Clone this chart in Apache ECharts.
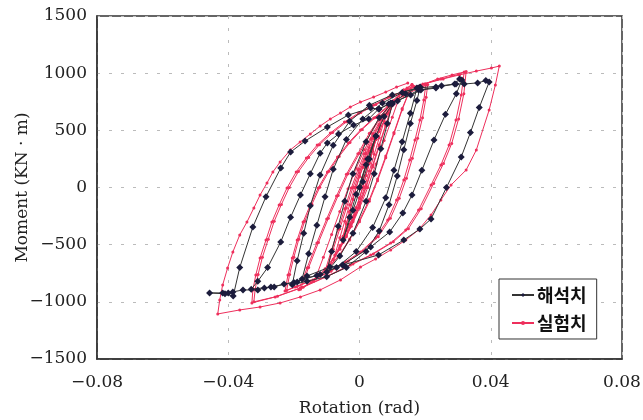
<!DOCTYPE html>
<html><head><meta charset="utf-8">
<script src="https://cdn.jsdelivr.net/npm/echarts@6/dist/echarts.min.js"></script>
<style>html,body{margin:0;padding:0;background:#fff}#c{width:643px;height:420px}</style>
</head><body><div id="c"></div>
<script>
// ---- tick values ----
const xTicks = [-0.08, -0.04, 0, 0.04, 0.08];
const yTicks = [-1500, -1000, -500, 0, 500, 1000, 1500];
const seriesNames = ['해석치', '실험치'];

// ---- 실험치 (experimental) path pieces: [rotation, moment] ----
const redStart = [[0,0],[0.001,90],[0.002,180],[0.003,260],[0.004,340],[0.005,420]];
const redL1a = [[0.004,315],[0.003,210],[0.002,105],[0.001,0],[0,-95],[-0.001,-180],[-0.002,-260],[-0.003,-320],[-0.004,-375],[-0.005,-430],[-0.004,-320],[-0.003,-215],[-0.002,-105],[-0.001,0],[0,95],[0.001,175],[0.002,250],[0.003,315],[0.004,370],[0.005,420]];
const redL1b = [[0.004,320],[0.003,220],[0.002,110],[0.001,5],[0,-90],[-0.001,-175],[-0.002,-255],[-0.003,-325],[-0.004,-380],[-0.005,-425],[-0.004,-315],[-0.003,-210],[-0.002,-100],[-0.001,5],[0,100],[0.001,180],[0.002,255],[0.003,320],[0.004,375],[0.005,425],[0.006,490],[0.0075,580]];
const redL2 = [[0.006,435],[0.0045,290],[0.003,145],[0.0015,0],[0,-130],[-0.0015,-245],[-0.003,-350],[-0.0045,-440],[-0.006,-510],[-0.0075,-590],[-0.006,-440],[-0.0045,-295],[-0.003,-150],[-0.0015,0],[0,130],[0.0015,245],[0.003,350],[0.0045,435],[0.006,510],[0.0075,580],[0.0088,650],[0.01,720]];
const redL3a = [[0.008,540],[0.006,360],[0.004,180],[0.002,0],[0,-160],[-0.002,-300],[-0.004,-430],[-0.006,-540],[-0.008,-630],[-0.01,-720],[-0.008,-540],[-0.006,-360],[-0.004,-180],[-0.002,0],[0,160],[0.002,300],[0.004,430],[0.006,540],[0.008,635],[0.01,720]];
const redL3b = [[0.008,550],[0.006,375],[0.004,195],[0.002,15],[0,-150],[-0.002,-290],[-0.004,-420],[-0.006,-530],[-0.008,-625],[-0.0105,-730],[-0.0085,-545],[-0.0065,-365],[-0.0045,-185],[-0.0025,-5],[-0.0005,155],[0.0015,295],[0.0035,425],[0.006,550],[0.0085,650],[0.0105,730],[0.0115,780],[0.0125,820]];
const redL4 = [[0.01,615],[0.0075,410],[0.005,205],[0.0025,0],[0,-180],[-0.0025,-340],[-0.005,-480],[-0.0075,-600],[-0.0105,-710],[-0.0135,-800],[-0.011,-610],[-0.0085,-410],[-0.006,-210],[-0.0035,-10],[-0.001,170],[0.0015,330],[0.004,470],[0.0065,590],[0.0095,710],[0.0125,820],[0.0145,870],[0.016,900]];
const redL5a = [[0.013,680],[0.0105,470],[0.008,260],[0.0055,60],[0.003,-120],[0,-300],[-0.003,-460],[-0.006,-590],[-0.01,-720],[-0.014,-820],[-0.018,-890],[-0.0155,-700],[-0.0125,-480],[-0.0095,-270],[-0.0065,-70],[-0.0035,120],[0,300],[0.0035,480],[0.007,630],[0.0105,760],[0.0135,850],[0.016,900]];
const redL5b = [[0.013,690],[0.0105,480],[0.008,275],[0.0055,75],[0.003,-105],[0,-285],[-0.003,-450],[-0.006,-585],[-0.01,-715],[-0.014,-815],[-0.0185,-895],[-0.016,-705],[-0.013,-485],[-0.01,-275],[-0.007,-75],[-0.004,115],[-0.0005,295],[0.003,475],[0.0065,625],[0.01,755],[0.0135,855],[0.0165,885],[0.0185,893],[0.0202,896]];
const red02a = [[0.0196,765],[0.0184,590],[0.0169,415],[0.0153,240],[0.0135,66],[0.0113,-109],[0.0086,-284],[0.0049,-441],[0.0003,-564],[-0.0043,-651],[-0.0095,-739],[-0.015,-817],[-0.0196,-870],[-0.0227,-905],[-0.0218,-765],[-0.0205,-616],[-0.019,-459],[-0.0172,-302],[-0.015,-153],[-0.0126,-4],[-0.0098,136],[-0.0067,267],[-0.0034,389],[0.0003,503],[0.0043,607],[0.0086,712],[0.0132,800],[0.0175,860],[0.0208,900]];
const red02b = [[0.0203,790],[0.0192,610],[0.0177,430],[0.0161,255],[0.0143,80],[0.0121,-95],[0.0094,-270],[0.0057,-430],[0.0011,-555],[-0.0035,-645],[-0.0087,-732],[-0.0142,-810],[-0.019,-865],[-0.0222,-900],[-0.0213,-760],[-0.02,-610],[-0.0185,-452],[-0.0167,-295],[-0.0145,-147],[-0.0121,2],[-0.0093,142],[-0.0062,272],[-0.0029,394],[0.0008,508],[0.0048,612],[0.0091,716],[0.0137,812],[0.0185,890],[0.0238,950],[0.0282,985],[0.0319,1010]];
const red03a = [[0.031,808],[0.0294,590],[0.0273,371],[0.0248,197],[0.0218,22],[0.018,-197],[0.0141,-371],[0.0095,-485],[0.0034,-590],[-0.0028,-677],[-0.0104,-782],[-0.018,-878],[-0.0257,-957],[-0.0328,-1010],[-0.0325,-896],[-0.0316,-765],[-0.0303,-616],[-0.0285,-459],[-0.0267,-302],[-0.0245,-153],[-0.0221,-4],[-0.0193,136],[-0.0162,258],[-0.0129,371],[-0.0089,476],[-0.0046,572],[-0.0003,651],[0.0043,721],[0.0089,791],[0.0141,852],[0.0193,905],[0.0248,948],[0.0303,990],[0.0325,1015]];
const red03b = [[0.0318,820],[0.0302,600],[0.0281,385],[0.0256,210],[0.0226,35],[0.0188,-185],[0.0149,-360],[0.0103,-475],[0.0042,-582],[-0.002,-670],[-0.0096,-775],[-0.0172,-872],[-0.025,-952],[-0.0322,-1000],[-0.0318,-890],[-0.0309,-760],[-0.0296,-610],[-0.0278,-452],[-0.026,-296],[-0.0238,-148],[-0.0214,0],[-0.0186,140],[-0.0155,262],[-0.0122,375],[-0.0082,480],[-0.0039,576],[0.0004,655],[0.005,725],[0.0096,795],[0.0148,856],[0.02,908],[0.0255,950],[0.0305,985],[0.0356,1018],[0.0402,1045],[0.0426,1062]];
const red04 = [[0.0414,896],[0.0395,677],[0.0356,328],[0.0325,153],[0.0279,22],[0.0248,-109],[0.0218,-240],[0.018,-371],[0.0141,-459],[0.0095,-546],[0.0049,-625],[0.0003,-695],[-0.0058,-808],[-0.012,-896],[-0.018,-957],[-0.0242,-1010],[-0.0303,-1045],[-0.0365,-1071],[-0.0432,-1106],[-0.0426,-983],[-0.0417,-852],[-0.0402,-704],[-0.0386,-564],[-0.0365,-415],[-0.0343,-302],[-0.0322,-179],[-0.0303,-66],[-0.0282,39],[-0.0264,136],[-0.0242,223],[-0.0211,328],[-0.0181,398],[-0.015,468],[-0.012,538],[-0.0089,599],[-0.0058,651],[-0.0028,704],[0.0003,747],[0.0043,791],[0.008,835],[0.0113,878],[0.0147,913]];

// ---- 해석치 (analysis) path pieces ----
const blkStart = [[0,0],[0.0025,250],[0.005,450]];
const blkC1 = [[0.003,250],[0.001,50],[-0.002,-200],[-0.005,-460],[-0.003,-260],[-0.001,-60],[0.002,200],[0.005,450]];
const blkC2 = [[0.0075,620],[0.01,730],[0.0085,560],[0.0065,340],[0.0045,120],[0.002,-120],[-0.002,-400],[-0.006,-600],[-0.01,-740],[-0.0085,-560],[-0.0065,-340],[-0.0045,-120],[-0.002,120],[0.002,400],[0.006,610],[0.01,740]];
const blkC3 = [[0.014,820],[0.0175,870],[0.0155,650],[0.013,400],[0.0105,150],[0.008,-90],[0.004,-350],[-0.001,-560],[-0.007,-700],[-0.013,-770],[-0.0175,-800],[-0.0155,-580],[-0.013,-330],[-0.0105,-80],[-0.008,160],[-0.004,420],[0.001,600],[0.007,740],[0.013,830],[0.0185,880]];
const blkC4 = [[0.0175,760],[0.0155,560],[0.0135,330],[0.0115,100],[0.009,-150],[0.006,-380],[0.002,-560],[-0.004,-700],[-0.01,-780],[-0.016,-820],[-0.0205,-850],[-0.019,-640],[-0.017,-400],[-0.015,-160],[-0.012,110],[-0.008,370],[-0.003,580],[0.003,720],[0.01,810],[0.018,870],[0.025,890],[0.029,905],[0.0305,950],[0.0312,940]];
const blkC5 = [[0.0295,820],[0.0262,640],[0.0227,415],[0.019,150],[0.016,-66],[0.0132,-223],[0.0092,-389],[0.0034,-520],[-0.0052,-677],[-0.012,-760],[-0.02,-830],[-0.027,-870],[-0.033,-890],[-0.031,-820],[-0.028,-700],[-0.024,-476],[-0.021,-260],[-0.018,-66],[-0.015,120],[-0.012,300],[-0.0098,389],[-0.0064,468],[-0.0018,546],[0.0028,599],[0.0058,686],[0.0089,730],[0.0116,756],[0.018,852],[0.0233,878],[0.0294,905],[0.0319,905],[0.036,915],[0.0385,935],[0.0395,922]];
const blkC6 = [[0.0365,700],[0.0338,480],[0.031,267],[0.0265,0],[0.0218,-275],[0.0184,-363],[0.0135,-459],[0.0058,-590],[-0.005,-677],[-0.009,-695],[-0.016,-774],[-0.019,-826],[-0.023,-843],[-0.026,-870],[-0.029,-878],[-0.031,-896],[-0.0355,-896],[-0.0386,-913],[-0.04,-922],[-0.0417,-922],[-0.0457,-922],[-0.041,-930],[-0.0385,-950],[-0.0365,-700],[-0.0325,-345],[-0.0285,-80],[-0.024,170],[-0.021,310],[-0.0166,406],[-0.0098,529],[-0.0034,634],[0.0034,695],[0.006,686],[0.0095,739],[0.0156,808],[0.0187,852],[0.0233,870]];

const redData = [].concat(redStart, redL1a, redL1b, redL2, redL3a, redL3b, redL4, redL5a, redL5b, red02a, red02b, red03a, red03b, red04);
const blkData = [].concat(blkStart, blkC1, blkC2, blkC3, blkC4, blkC5, blkC6);

const serif = '"DejaVu Serif","Liberation Serif",serif';
const minus = s => String(s).replace('-', '\u2212');
const chart = echarts.init(document.getElementById('c'), null, {renderer:'canvas'});
chart.setOption({
  animation: false,
  backgroundColor: '#fff',
  grid: {left: 97, right: 21, top: 16, bottom: 61, containLabel: false, outerBoundsMode: 'none',
         show: true, borderColor: '#333', borderWidth: 1.5, backgroundColor: 'transparent'},
  legend: {
    data: seriesNames, orient: 'vertical', left: 499, top: 279,
    padding: [7, 10, 7, 12], itemGap: 10, itemWidth: 22, itemHeight: 5,
    borderColor: '#333', borderWidth: 1, backgroundColor: '#fff',
    textStyle: {fontFamily: '"Noto Sans CJK KR"', fontSize: 18, fontWeight: 'bold', color: '#111', padding: [0,0,0,-2]}
  },
  xAxis: {
    type: 'value', min: xTicks[0], max: xTicks[xTicks.length-1], interval: 0.04,
    name: 'Rotation (rad)', nameLocation: 'middle', nameGap: 41, nameMoveOverlap: false,
    nameTextStyle: {fontFamily: serif, fontSize: 17, color: '#222'},
    axisLine: {onZero: false, lineStyle: {color: '#333', width: 1.5}},
    axisTick: {show: false},
    axisLabel: {fontFamily: serif, fontSize: 17, color: '#222', margin: 15,
      formatter: v => v === 0 ? '0' : minus(v.toFixed(2))},
    splitLine: {show: true, lineStyle: {color: '#bbb', type: [3, 9], width: 1}}
  },
  yAxis: {
    type: 'value', min: yTicks[0], max: yTicks[yTicks.length-1], interval: 500,
    name: 'Moment (KN \u00b7 m)', nameLocation: 'middle', nameGap: 66, nameRotate: 90, nameMoveOverlap: false,
    nameTextStyle: {fontFamily: serif, fontSize: 17, color: '#222'},
    axisLine: {onZero: false, lineStyle: {color: '#333', width: 1.5}},
    axisTick: {show: false},
    axisLabel: {fontFamily: serif, fontSize: 17, color: '#222', margin: 10,
      formatter: v => minus(v)},
    splitLine: {show: true, lineStyle: {color: '#bbb', type: [3, 9], width: 1}}
  },
  series: [
    {name: seriesNames[0], type: 'line', data: blkData, z: 4,
     symbol: 'diamond', symbolSize: 7, showAllSymbol: true,
     itemStyle: {color: '#1c1c3c'}, lineStyle: {color: '#333', width: 1}},
    {name: seriesNames[1], type: 'line', data: redData, z: 3,
     symbol: 'circle', symbolSize: 3, showAllSymbol: true,
     itemStyle: {color: '#ee2f5c'}, lineStyle: {color: '#ee2f5c', width: 1}}
  ]
});
</script></body></html>
